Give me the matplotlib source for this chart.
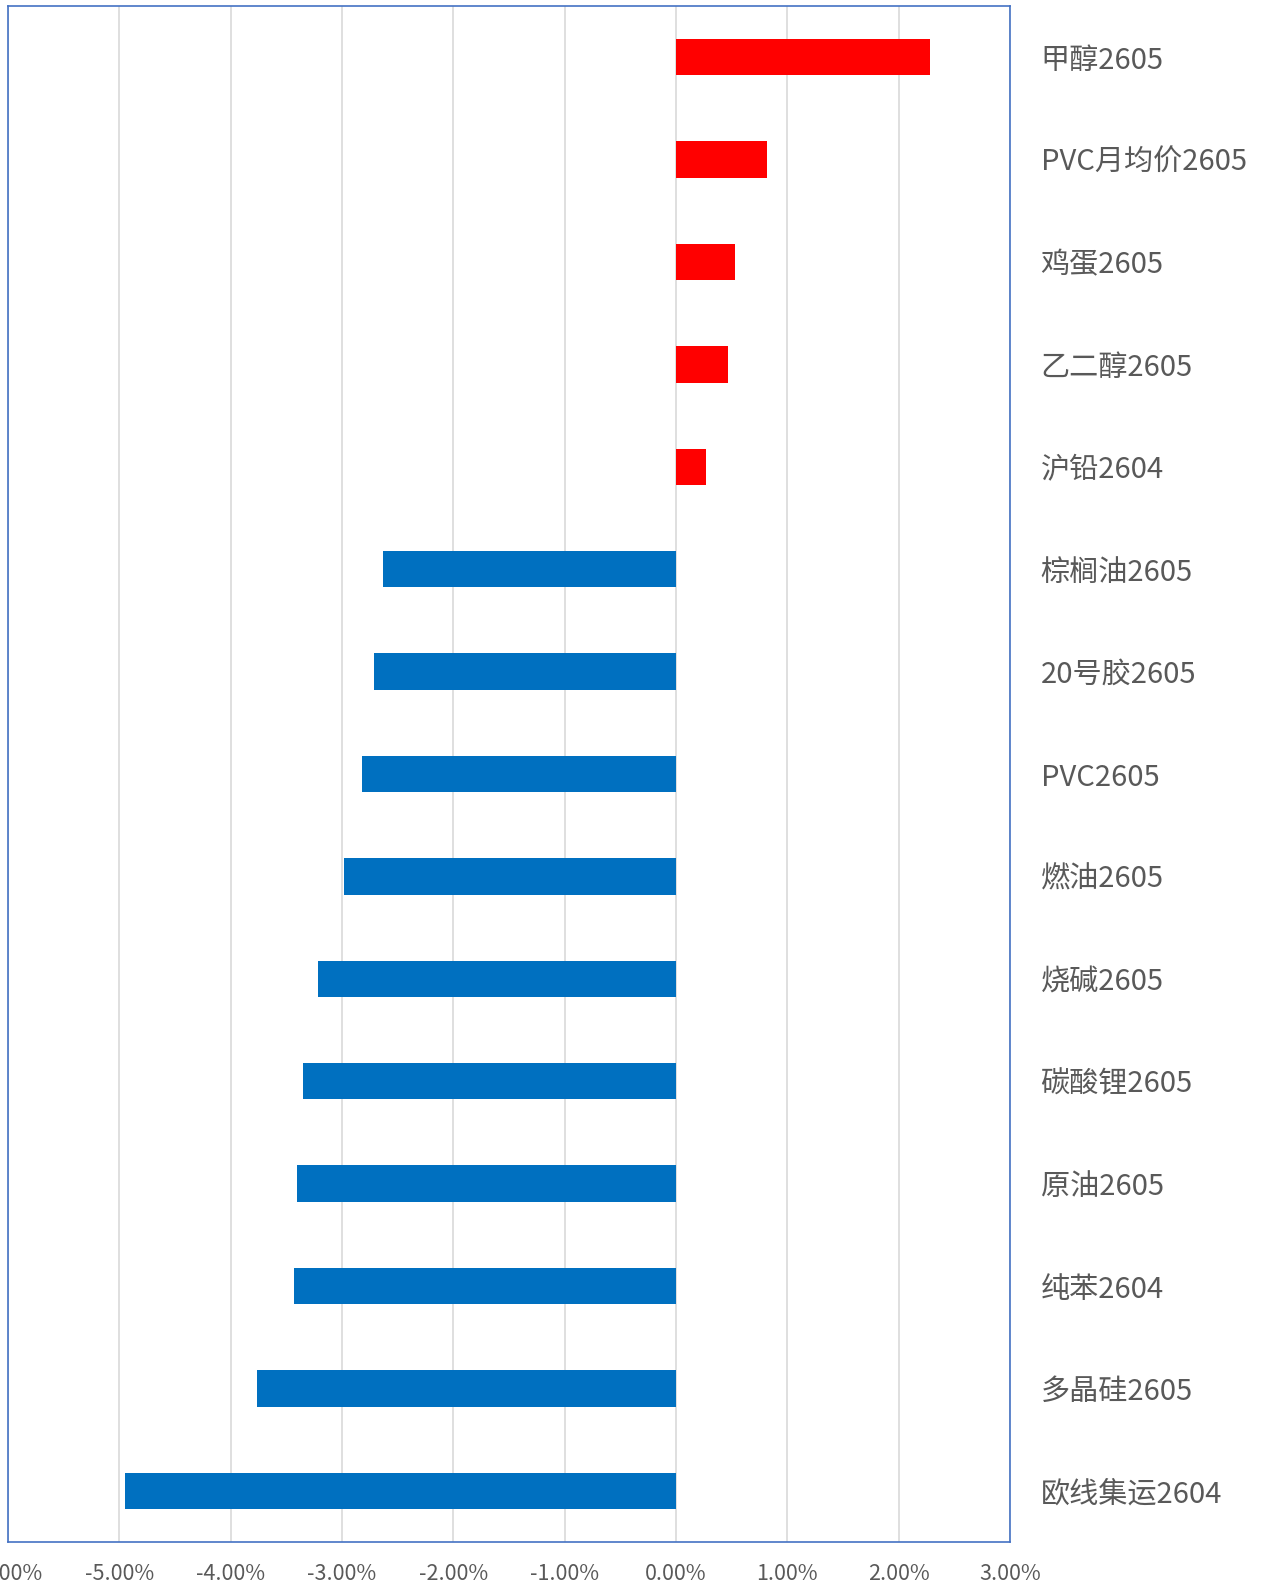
import numpy as np
import matplotlib
matplotlib.use('Agg')
import matplotlib.pyplot as plt
from matplotlib.ticker import FuncFormatter, MultipleLocator

plt.rcParams['font.family'] = ['Noto Sans CJK SC', 'DejaVu Sans']

# contracts, top to bottom, and their daily change (%)
contracts = ['甲醇2605', 'PVC月均价2605', '鸡蛋2605', '乙二醇2605', '沪铅2604',
             '棕榈油2605', '20号胶2605', 'PVC2605', '燃油2605', '烧碱2605',
             '碳酸锂2605', '原油2605', '纯苯2604', '多晶硅2605', '欧线集运2604']
changes = [2.28, 0.82, 0.53, 0.47, 0.27,
           -2.63, -2.71, -2.82, -2.98, -3.22,
           -3.35, -3.40, -3.43, -3.76, -4.95]

fig = plt.figure(figsize=(12.65, 15.85), dpi=100)
ax = fig.add_axes([8 / 1265, 1 - 1542 / 1585, 1002 / 1265, 1536 / 1585])

y = np.arange(len(contracts))
vals = np.array(changes) / 100
colors = ['#FF0000' if v > 0 else '#0070C0' for v in vals]
ax.barh(y, vals, height=0.355, color=colors, zorder=3)

ax.set_xlim(-0.06, 0.03)
ax.set_ylim(len(contracts) - 0.5, -0.5)
ax.xaxis.set_major_locator(MultipleLocator(0.01))
ax.xaxis.set_major_formatter(FuncFormatter(lambda v, p: f'{v * 100:.2f}%'))
ax.grid(axis='x', color='#D9D9D9', linewidth=1.2, zorder=0)

ax.yaxis.tick_right()
ax.set_yticks(y)
ax.set_yticklabels(contracts)
ax.tick_params(axis='y', length=0, pad=22, labelsize=21, labelcolor='#595959')
ax.tick_params(axis='x', length=0, pad=15, labelsize=15.5, labelcolor='#595959')

for s in ax.spines.values():
    s.set_color('#4472C4')
    s.set_linewidth(1.2)

fig.savefig('out.png', dpi=100)
